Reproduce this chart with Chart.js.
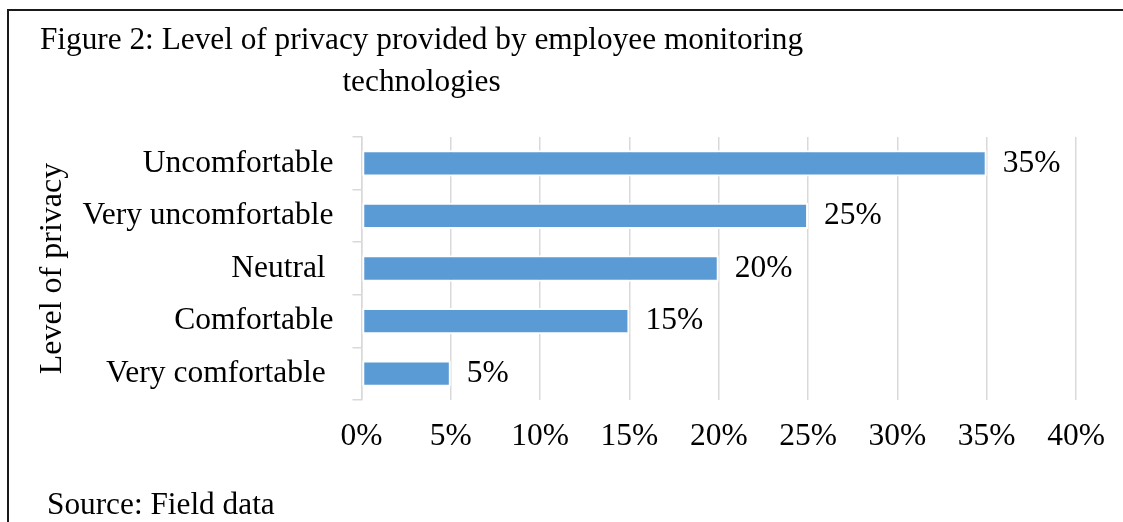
<!DOCTYPE html>
<html>
<head>
<meta charset="utf-8">
<script src="https://cdn.jsdelivr.net/npm/chart.js@4"></script>
<style>
    html, body { margin: 0; padding: 0; background: #fff; overflow: hidden; }
    #wrap { position: relative; width: 1123px; height: 522px; overflow: hidden; }
    #frame { position: absolute; left: 7px; top: 9px; width: 1300px; height: 700px;
             border-left: 2px solid #1a1a1a; border-top: 2px solid #1a1a1a; }
    .txt { position: absolute; font-family: "Liberation Serif", "Times New Roman", serif;
           font-size: 31.3px; line-height: 42px; color: #000; white-space: nowrap; z-index: 2; }
    #title { left: 0; top: 18px; width: 843px; text-align: center; }
    #source { left: 47px; top: 482.5px; }
    canvas { position: absolute; left: 0; top: 0; z-index: 1; }
</style>
</head>
<body>
<div id="wrap">
    <div id="frame"></div>
    <div id="title" class="txt">Figure 2: Level of privacy provided by employee monitoring<br>technologies</div>
    <canvas id="myChart" width="1123" height="522"></canvas>
    <div id="source" class="txt">Source: Field data</div>
</div>
<script>
// values
const categories = ['Uncomfortable', 'Very uncomfortable', 'Neutral ', 'Comfortable', 'Very comfortable '];
const shares = [35, 25, 20, 15, 5];
const xTicks = [0, 5, 10, 15, 20, 25, 30, 35, 40];
const axisTitle = 'Level of privacy';

const serif = '"Liberation Serif", "Times New Roman", serif';

// draws the "35%" style labels right of each bar
const barLabels = {
    id: 'barLabels',
    afterDatasetsDraw(chart) {
        const ctx = chart.ctx;
        const meta = chart.getDatasetMeta(0);
        ctx.save();
        ctx.font = '31.5px ' + serif;
        ctx.fillStyle = '#000';
        ctx.textAlign = 'left';
        ctx.textBaseline = 'middle';
        meta.data.forEach(function(bar, i) {
            ctx.fillText(shares[i] + '%', bar.x + 16, bar.y);
        });
        ctx.restore();
    }
};

const ctx = document.getElementById('myChart');
new Chart(ctx, {
    type: 'bar',
    data: {
        labels: categories,
        datasets: [{
            data: shares,
            backgroundColor: '#5B9BD5',
            borderColor: '#ffffff',
            borderWidth: 2,
            borderSkipped: false,
            barPercentage: 0.5,
            categoryPercentage: 1
        }]
    },
    options: {
        indexAxis: 'y',
        responsive: false,
        animation: false,
        events: [],
        layout: { padding: { left: 29.5, right: 47, top: 137, bottom: 0 } },
        plugins: {
            legend: { display: false },
            tooltip: { enabled: false }
        },
        scales: {
            x: {
                min: 0,
                max: 40,
                afterBuildTicks(scale) {
                    scale.ticks = xTicks.map(v => ({ value: v }));
                },
                afterFit(scale) { scale.height = 122; },
                grid: { color: '#d9d9d9', lineWidth: 1.5, drawTicks: false },
                border: { display: false },
                ticks: {
                    color: '#000',
                    padding: 18,
                    font: { family: serif, size: 31.5 },
                    callback: v => v + '%'
                }
            },
            y: {
                z: 1,
                afterFit(scale) { scale.width = 332; },
                grid: { color: '#d9d9d9', lineWidth: 1.5, drawOnChartArea: false, tickLength: 9, offset: true },
                border: { display: true, color: '#d9d9d9', width: 1.5 },
                ticks: {
                    color: '#000',
                    padding: 19,
                    font: { family: serif, size: 31.5 }
                },
                title: {
                    display: true,
                    text: axisTitle,
                    color: '#000',
                    font: { family: serif, size: 32 }
                }
            }
        }
    },
    plugins: [barLabels]
});
</script>
</body>
</html>
